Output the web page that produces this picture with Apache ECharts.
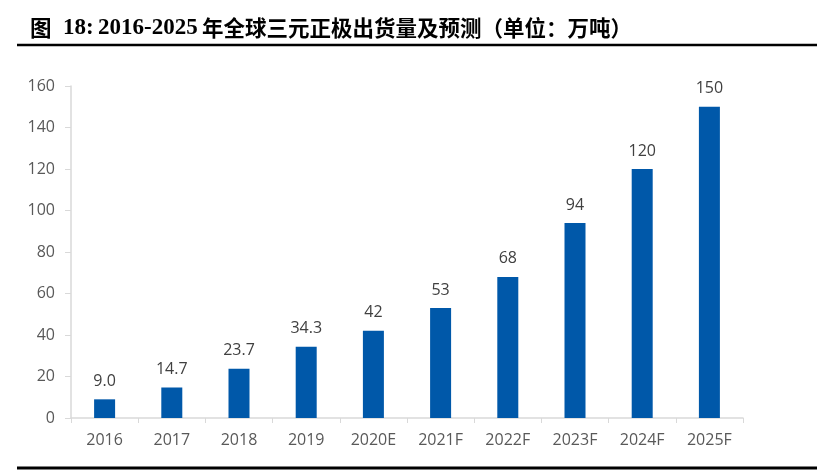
<!DOCTYPE html>
<html><head><meta charset="utf-8">
<script src="https://cdn.jsdelivr.net/npm/echarts@6/dist/echarts.min.js"></script>
<style>html,body{margin:0;padding:0;background:#fff}#c{width:820px;height:471px}</style>
</head><body><div id="c"></div>
<script>
const categories = ['2016','2017','2018','2019','2020E','2021F','2022F','2023F','2024F','2025F'];
const shipments = [9.0, 14.7, 23.7, 34.3, 42, 53, 68, 94, 120, 150];
const labelText = ['9.0','14.7','23.7','34.3','42','53','68','94','120','150'];
const yTicks = [0, 20, 40, 60, 80, 100, 120, 140, 160];
const titleParts = ['图', '18:', '2016-2025', '年全球三元正极出货量及预测（单位：万吨）'];

const cjk = {fontFamily:'Noto Sans CJK SC', fontWeight:'bold', fontSize:21.5, fill:'#000'};
const num = {fontFamily:'Liberation Serif', fontWeight:'bold', fontSize:23, fill:'#000'};
function t(x, text, st){
  return {type:'text', x:x, y:28, style:Object.assign({text:text, textVerticalAlign:'middle', textAlign:'left'}, st)};
}

const chart = echarts.init(document.getElementById('c'), null, {renderer:'canvas'});
chart.setOption({
  backgroundColor:'#fff',
  animation:false,
  graphic:[
    t(30, titleParts[0], cjk),
    t(63, titleParts[1], num),
    t(98, titleParts[2], num),
    t(202, titleParts[3], cjk),
    {type:'line', shape:{x1:17,y1:45,x2:817,y2:45}, style:{stroke:'#000',lineWidth:2.5}},
    {type:'line', shape:{x1:17,y1:468,x2:817,y2:468}, style:{stroke:'#000',lineWidth:3}}
  ],
  grid:{left:71, right:77, top:86, bottom:53, containLabel:false},
  xAxis:{
    type:'category', data:categories,
    axisLine:{lineStyle:{color:'#d9d9d9', width:1.5}},
    axisTick:{show:true, alignWithLabel:false, length:5, lineStyle:{color:'#d9d9d9'}},
    axisLabel:{color:'#595959', fontFamily:'Open Sans', fontSize:16, margin:14}
  },
  yAxis:{
    type:'value', min:yTicks[0], max:yTicks[yTicks.length-1], interval:yTicks[1]-yTicks[0],
    axisLine:{show:true, lineStyle:{color:'#d9d9d9', width:1.5}},
    axisTick:{show:true, length:6, lineStyle:{color:'#d9d9d9'}},
    splitLine:{show:false},
    axisLabel:{color:'#595959', fontFamily:'Open Sans', fontSize:16, margin:16}
  },
  series:[{
    type:'bar', data:shipments, barWidth:21,
    itemStyle:{color:'#0058A9'},
    label:{show:true, position:'top', distance:10, color:'#404040', fontFamily:'Open Sans', fontSize:16,
      formatter:p=>labelText[p.dataIndex]}
  }]
});
</script></body></html>
